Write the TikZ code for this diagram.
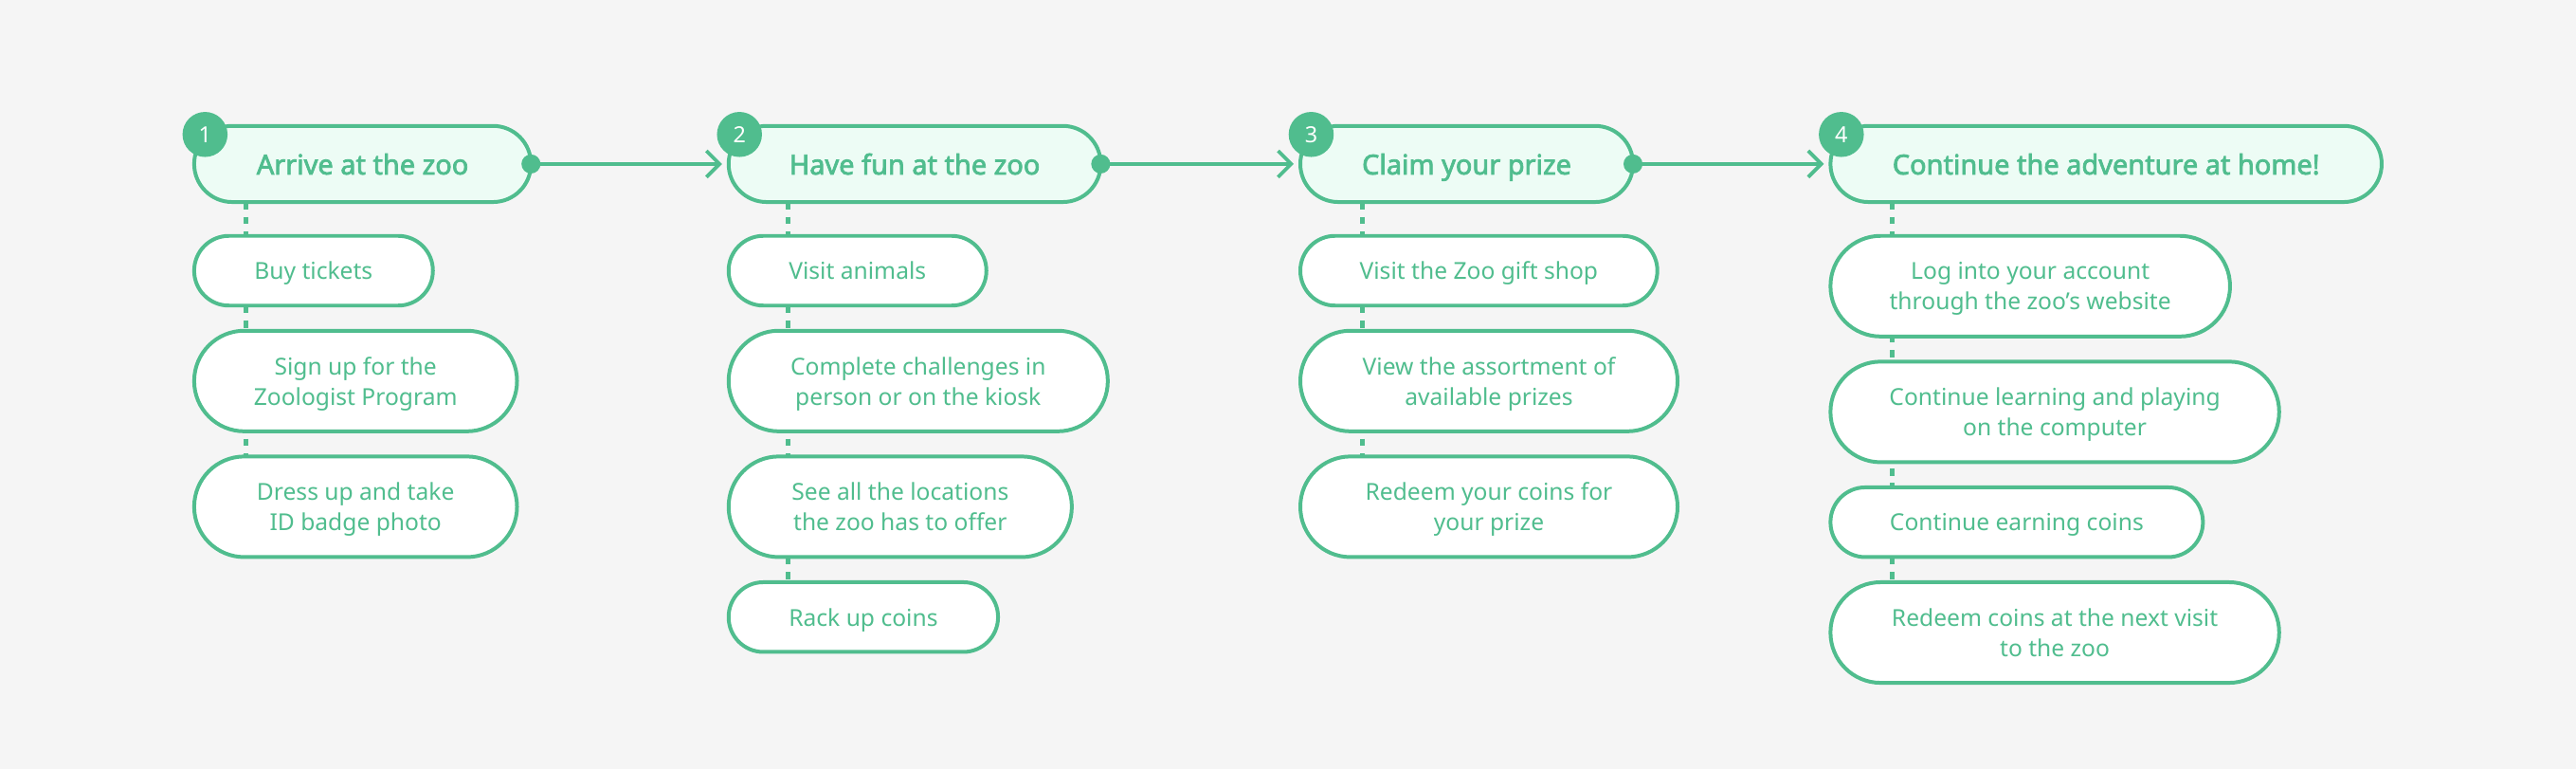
\documentclass[tikz,border=0pt]{standalone}
\usepackage{fontspec}
\setmainfont{Noto Sans}
\newfontfamily\headfont[FakeBold=2.5]{Noto Sans}
\usetikzlibrary{arrows.meta,positioning,backgrounds}
\definecolor{zoogreen}{RGB}{80,189,142}
\definecolor{zoomint}{RGB}{237,252,245}
\definecolor{zoobg}{RGB}{245,245,245}
\tikzset{
  stephead/.style={draw=zoogreen, fill=zoomint, line width=2.3pt, rounded corners=23.1pt,
    minimum height=46.3pt, inner sep=0pt, outer sep=0pt, text=zoogreen, text depth=0pt,
    font=\headfont\fontsize{16.7}{20}\selectfont},
  stepsub/.style={draw=zoogreen, fill=white, line width=2.3pt, inner sep=0pt, outer sep=0pt,
    text=zoogreen, align=center, text depth=0pt, font=\fontsize{14.2}{18.5}\selectfont},
  subone/.style={stepsub, minimum height=42.4pt, rounded corners=21.1pt},
  subtwo/.style={stepsub, minimum height=61.2pt, rounded corners=30.5pt},
  badge/.style={circle, fill=zoogreen, minimum size=27.4pt, inner sep=0pt, text=white,
    font=\bfseries\fontsize{13.5}{15}\selectfont},
  flow/.style={draw=zoogreen, line width=2.2pt, -{Straight Barb[length=8pt,width=16pt]}, shorten >=4pt},
  dotline/.style={draw=zoogreen, line width=2.9pt, dash pattern=on 4.5pt off 4.5pt}
}
\begin{document}
\begin{tikzpicture}[x=1pt,y=-1pt]
  \useasboundingbox (0,0) rectangle (1568,468);
  % steps
  \node[stephead, minimum width=205pt, anchor=north west] (h1) at (118.2,76.6) {Arrive at the zoo};
  \node[stephead, minimum width=226.5pt, anchor=north west] (h2) at (443.5,76.6) {Have fun at the zoo};
  \node[stephead, minimum width=202.5pt, anchor=north west] (h3) at (791.5,76.6) {Claim your prize};
  \node[stephead, minimum width=335.5pt, anchor=north west] (h4) at (1114.2,76.6) {Continue the adventure at home!};
  \node[badge] (b1) at ([xshift=6.6pt,yshift=-5.2pt]h1.north west) {1};
  \node[badge] (b2) at ([xshift=6.6pt,yshift=-5.2pt]h2.north west) {2};
  \node[badge] (b3) at ([xshift=6.6pt,yshift=-5.2pt]h3.north west) {3};
  \node[badge] (b4) at ([xshift=6.6pt,yshift=-5.2pt]h4.north west) {4};
  % step 1
  \node[subone, minimum width=145.3pt, below=20.6pt of h1.south west, anchor=north west] (s11) {Buy tickets};
  \node[subtwo, minimum width=196.5pt, below=15.3pt of s11.south west, anchor=north west] (s12) {Sign up for the\\Zoologist Program};
  \node[subtwo, minimum width=196.5pt, below=15.3pt of s12.south west, anchor=north west] (s13) {Dress up and take\\ID badge photo};
  % step 2
  \node[subone, minimum width=156.9pt, below=20.6pt of h2.south west, anchor=north west] (s21) {Visit animals};
  \node[subtwo, minimum width=230.8pt, below=15.3pt of s21.south west, anchor=north west] (s22) {Complete challenges in\\person or on the kiosk};
  \node[subtwo, minimum width=208.9pt, below=15.3pt of s22.south west, anchor=north west] (s23) {See all the locations\\the zoo has to offer};
  \node[subone, minimum width=164pt, below=15.3pt of s23.south west, anchor=north west] (s24) {Rack up coins};
  % step 3
  \node[subone, minimum width=217.3pt, below=20.6pt of h3.south west, anchor=north west] (s31) {Visit the Zoo gift shop};
  \node[subtwo, minimum width=229.6pt, below=15.3pt of s31.south west, anchor=north west] (s32) {View the assortment of\\available prizes};
  \node[subtwo, minimum width=229.6pt, below=15.3pt of s32.south west, anchor=north west] (s33) {Redeem your coins for\\your prize};
  % step 4
  \node[subtwo, minimum width=243.2pt, below=20.6pt of h4.south west, anchor=north west] (s41) {Log into your account\\through the zoo’s website};
  \node[subtwo, minimum width=273.1pt, below=15.3pt of s41.south west, anchor=north west] (s42) {Continue learning and playing\\on the computer};
  \node[subone, minimum width=226.7pt, below=15.3pt of s42.south west, anchor=north west] (s43) {Continue earning coins};
  \node[subtwo, minimum width=273.1pt, below=15.3pt of s43.south west, anchor=north west] (s44) {Redeem coins at the next visit\\to the zoo};
  % arrows between steps
  \draw[flow] (h1.east) -- (h2.west);
  \draw[flow] (h2.east) -- (h3.west);
  \draw[flow] (h3.east) -- (h4.west);
  \fill[zoogreen] (h1.east) circle (5.8pt);
  \fill[zoogreen] (h2.east) circle (5.8pt);
  \fill[zoogreen] (h3.east) circle (5.8pt);
  \begin{scope}[on background layer]
    \fill[zoobg] (0,0) rectangle (1568,468);
    \draw[dotline] ([xshift=31.3pt]h1.south west) -- ([xshift=31.3pt]s13.north west);
    \draw[dotline] ([xshift=36.3pt]h2.south west) -- ([xshift=36.3pt]s24.north west);
    \draw[dotline] ([xshift=37.9pt]h3.south west) -- ([xshift=37.9pt]s33.north west);
    \draw[dotline] ([xshift=37.4pt]h4.south west) -- ([xshift=37.4pt]s44.north west);
  \end{scope}
\end{tikzpicture}
\end{document}
